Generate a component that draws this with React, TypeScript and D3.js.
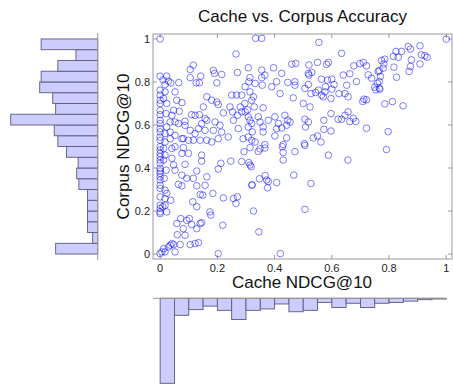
import React from "react";
import * as d3 from "d3";

// scatter points [cache NDCG@10, corpus NDCG@10]
const points: [number, number][] = [
  [0,1.0],[0.265,0.93],[0.116,0.878],[0.105,0.858],[0.186,0.854],[0.27,0.844],[0.215,0.835],[0.142,0.827],[0.105,0.82],[0.19,0.84],[0.126,0.796],[0.137,0.796],[0.198,0.796],
  [0,0.827],[0.023,0.827],[0.01,0.81],[0.029,0.804],[0.037,0.796],[0.065,0.797],[0.017,0.788],
  [0,0.762],[0,0.739],[0,0.715],[0,0.70],[0,0.668],[0,0.648],[0,0.622],[0,0.607],[0,0.583],[0,0.568],[0,0.544],[0,0.529],
  [0.017,0.754],[0.012,0.723],[0.023,0.70],[0.052,0.754],[0.058,0.715],[0.076,0.704],[0.047,0.668],[0.067,0.664],[0.041,0.645],[0.021,0.653],[0.035,0.614],[0.023,0.591],[0.052,0.614],[0.064,0.607],[0.017,0.56],[0.035,0.567],[0.052,0.552],[0.076,0.536],[0.035,0.536],[0.017,0.521],
  [0.087,0.617],[0.11,0.648],[0.122,0.645],[0.137,0.648],[0.157,0.63],[0.087,0.598],[0.105,0.575],[0.134,0.583],[0.145,0.606],[0.157,0.575],[0.081,0.537],[0.099,0.529],[0.116,0.529],[0.14,0.529],[0.163,0.529],[0.18,0.521],[0.122,0.56],
  [0.163,0.731],[0.18,0.715],[0.198,0.707],[0.203,0.695],[0.151,0.684],[0.221,0.656],[0.253,0.661],[0.244,0.684],[0.25,0.739],[0.267,0.739],[0.285,0.739],[0.296,0.70],
  [0.28,0.684],[0.285,0.661],[0.27,0.645],[0.256,0.622],[0.305,0.67],
  [0.163,0.622],[0.192,0.614],[0.209,0.599],[0.186,0.575],[0.215,0.567],[0.238,0.544],[0.273,0.583],[0.203,0.536],[0.29,0.536],
  [0,0.499],[0,0.484],[0,0.468],[0,0.453],[0,0.437],[0,0.422],[0,0.398],[0,0.386],[0,0.375],[0,0.359],[0,0.344],[0,0.32],[0,0.305],[0,0.266],[0,0.227],[0,0.212],[0,0.196],[0,0.188],
  [0.012,0.491],[0.017,0.46],[0.012,0.437],[0.021,0.39],[0.014,0.352],[0.017,0.297],[0.023,0.282],[0.017,0.258],[0.009,0.22],[0.023,0.196],
  [0.041,0.491],[0.052,0.499],[0.081,0.495],[0.076,0.468],[0.099,0.468],[0.041,0.445],[0.087,0.417],[0.047,0.414],[0.052,0.39],[0.076,0.367],[0.093,0.352],[0.116,0.352],[0.128,0.386],[0.064,0.324],[0.076,0.317],[0.128,0.317],[0.14,0.277],[0.149,0.274],[0.184,0.282],[0.221,0.261],[0.256,0.258],[0.27,0.266],[0.265,0.235],[0.203,0.395],[0.212,0.422],[0.247,0.432],[0.293,0.476],[0.145,0.46],[0.145,0.432],[0.163,0.359],[0.157,0.32],[0.114,0.243],[0.128,0.22],[0.174,0.196],[0.177,0.181],[0.037,0.25],[0.017,0.227],
  [0.072,0.165],[0.058,0.142],[0.093,0.157],[0.102,0.165],[0.11,0.137],[0.14,0.142],[0.145,0.146],[0.128,0.118],[0.081,0.118],[0.219,0.134],[0.06,0.09],[0.087,0.087],[0.041,0.049],[0.035,0.041],[0.029,0.033],[0.047,0.044],[0.012,0.025],[0.006,0.01],[0,0.002],[0.017,0.01],[0.052,0.01],[0.07,0.044],[0.105,0.044],[0.122,0.049],[0.134,0.053],[0.203,0.002],
  [0.42,0.002],[0.345,0.103],[0.326,0.2],[0.32,0.32],[0.322,0.322],[0.407,0.332],[0.367,0.365],[0.372,0.344],[0.378,0.337],[0.375,0.308],[0.347,0.35],[0.31,0.425],[0.314,0.414],[0.318,0.406],[0.285,0.43],[0.343,0.477],[0.349,0.489],[0.366,0.493],[0.314,0.495],[0.427,0.499],[0.43,0.472],[0.43,0.437],[0.471,0.476],[0.467,0.367],[0.527,0.328],[0.506,0.208],[0.506,0.505],[0.588,0.46],[0.656,0.437],[0.791,0.486],
  [0.334,1.003],[0.355,1.003],[0.555,0.984],[0.634,0.933],[0.308,0.866],[0.355,0.855],[0.366,0.832],[0.355,0.82],[0.314,0.82],[0.396,0.866],[0.425,0.84],[0.46,0.883],[0.474,0.886],[0.52,0.879],[0.55,0.891],[0.582,0.882],[0.588,0.891],[0.52,0.832],[0.518,0.84],[0.53,0.844],[0.564,0.813],[0.585,0.809],[0.6,0.813],[0.64,0.832],
  [0.31,0.801],[0.332,0.793],[0.357,0.785],[0.39,0.778],[0.407,0.801],[0.446,0.798],[0.471,0.801],[0.471,0.785],[0.297,0.778],[0.314,0.754],[0.326,0.731],[0.32,0.715],[0.419,0.746],[0.465,0.726],
  [0.518,0.788],[0.506,0.77],[0.527,0.746],[0.543,0.751],[0.553,0.762],[0.564,0.739],[0.576,0.754],[0.578,0.778],[0.57,0.731],[0.6,0.767],[0.608,0.788],[0.625,0.746],[0.597,0.723],[0.652,0.785],[0.657,0.731],[0.646,0.746],
  [0.5,0.7],[0.524,0.684],[0.329,0.684],[0.36,0.68],[0.297,0.661],[0.308,0.638],[0.314,0.622],[0.32,0.607],[0.308,0.591],[0.322,0.568],[0.308,0.544],[0.32,0.529],[0.332,0.521],
  [0.343,0.638],[0.349,0.614],[0.36,0.591],[0.36,0.568],[0.378,0.622],[0.401,0.638],[0.413,0.607],[0.425,0.586],[0.436,0.645],[0.446,0.622],[0.442,0.599],[0.454,0.614],[0.407,0.583],
  [0.401,0.549],[0.442,0.54],[0.506,0.627],[0.508,0.591],[0.518,0.614],[0.535,0.54],[0.55,0.549],[0.562,0.521],[0.572,0.622],[0.572,0.58],[0.597,0.572],[0.597,0.653],[0.622,0.627],[0.634,0.627],[0.646,0.645],[0.657,0.661],[0.504,0.513],[0.43,0.509],[0.366,0.509],
  [1.0,0.999],[0.867,0.965],[0.875,0.953],[0.908,0.968],[0.824,0.942],[0.844,0.942],[0.815,0.919],[0.832,0.915],[0.913,0.926],[0.925,0.922],[0.933,0.915],[0.878,0.903],[0.908,0.884],[0.875,0.872],[0.87,0.849],
  [0.774,0.9],[0.785,0.906],[0.782,0.884],[0.779,0.864],[0.766,0.853],[0.817,0.869],[0.826,0.822],
  [0.677,0.875],[0.698,0.885],[0.71,0.891],[0.721,0.875],[0.663,0.838],[0.727,0.833],[0.739,0.818],[0.762,0.849],[0.77,0.826],[0.766,0.802],[0.759,0.794],[0.766,0.771],[0.75,0.776],[0.754,0.763],[0.768,0.766],[0.686,0.802],
  [0.712,0.72],[0.721,0.717],[0.708,0.709],[0.785,0.698],[0.812,0.709],[0.849,0.689],[0.721,0.585],[0.797,0.569],[0.675,0.631],[0.663,0.616],[0.684,0.616],
];

// histogram bins (width 0.05, from 0 to 1)
const binEdges = [0,0.05,0.1,0.15,0.2,0.25,0.3,0.35,0.4,0.45,0.5,0.55,0.6,0.65,0.7,0.75,0.8,0.85,0.9,0.95,1];
const corpusCounts = [58,7,14,14,14,14,26,29,27,43,55,60,120,58,62,80,78,55,30,78];
const cacheCounts = [120,24,16,11,17,30,17,15,8,19,17,6,13,7,13,7,6,4,2,1];
const ticks = [0,0.2,0.4,0.6,0.8,1];
const tickLabels = ["0","0.2","0.4","0.6","0.8","1"];

export default function App() {
  const W = 453, H = 385;
  const L = 153, R = 452, T = 34, B = 259;
  const x = d3.scaleLinear().domain([-0.025, 1.02]).range([L, R]);
  const y = d3.scaleLinear().domain([-0.023, 1.023]).range([B, T]);
  const leftBase = 97.7;
  const bottomBase = 298.3;
  const lenLeft = d3.scaleLinear().domain([0, 120]).range([0, 87]);
  const lenBottom = d3.scaleLinear().domain([0, 120]).range([0, 85]);
  const font = "Liberation Sans, Arial, sans-serif";
  const fill = "#ccccff";
  const barStroke = "#5a5a7a";
  const axisCol = "#9a9a9a";

  return (
    <svg width={W} height={H} style={{ position: "absolute", left: 0, top: 0, background: "#fff" }} fontFamily={font}>
      <rect x={0} y={0} width={W} height={H} fill="#fff" />
      {/* title */}
      <text x={(L + R) / 2} y={22} textAnchor="middle" fontSize={17} fill="#111">Cache vs. Corpus Accuracy</text>

      {/* axes box */}
      <rect x={L} y={T} width={R - L} height={B - T} fill="none" stroke={axisCol} strokeWidth={1} />
      {ticks.map((t, i) => (
        <g key={"t" + i}>
          <line x1={x(t)} x2={x(t)} y1={B} y2={B - 4} stroke={axisCol} />
          <line x1={x(t)} x2={x(t)} y1={T} y2={T + 4} stroke={axisCol} />
          <line x1={L} x2={L + 4} y1={y(t)} y2={y(t)} stroke={axisCol} />
          <line x1={R} x2={R - 4} y1={y(t)} y2={y(t)} stroke={axisCol} />
          <text x={x(t)} y={272} textAnchor="middle" fontSize={11} fill="#222">{tickLabels[i]}</text>
          <text x={150} y={y(t) + 4} textAnchor="end" fontSize={11} fill="#222">{tickLabels[i]}</text>
        </g>
      ))}

      {/* points */}
      {points.map((p, i) => (
        <circle key={"p" + i} cx={x(p[0])} cy={y(p[1])} r={3.3} fill="none" stroke="#0000ff" strokeOpacity={0.5} strokeWidth={1} />
      ))}

      {/* axis labels */}
      <text x={(L + R) / 2 - 0.5} y={288} textAnchor="middle" fontSize={17} fill="#111">Cache NDCG@10</text>
      <text transform={`translate(129,${(T + B) / 2}) rotate(-90)`} textAnchor="middle" fontSize={17} fill="#111">Corpus NDCG@10</text>

      {/* left histogram */}
      {corpusCounts.map((c, i) => (
        <rect key={"l" + i} x={leftBase - lenLeft(c)} y={y(binEdges[i + 1])} width={lenLeft(c)} height={y(binEdges[i]) - y(binEdges[i + 1])}
          fill={fill} stroke={barStroke} strokeWidth={0.9} />
      ))}
      <line x1={leftBase} x2={leftBase} y1={T - 1} y2={B + 1} stroke={axisCol} />

      {/* bottom histogram */}
      {cacheCounts.map((c, i) => (
        <rect key={"b" + i} x={x(binEdges[i])} y={bottomBase} width={x(binEdges[i + 1]) - x(binEdges[i])} height={lenBottom(c)}
          fill={fill} stroke={barStroke} strokeWidth={0.9} />
      ))}
      <line x1={L} x2={x(1)} y1={bottomBase} y2={bottomBase} stroke={axisCol} />
    </svg>
  );
}
